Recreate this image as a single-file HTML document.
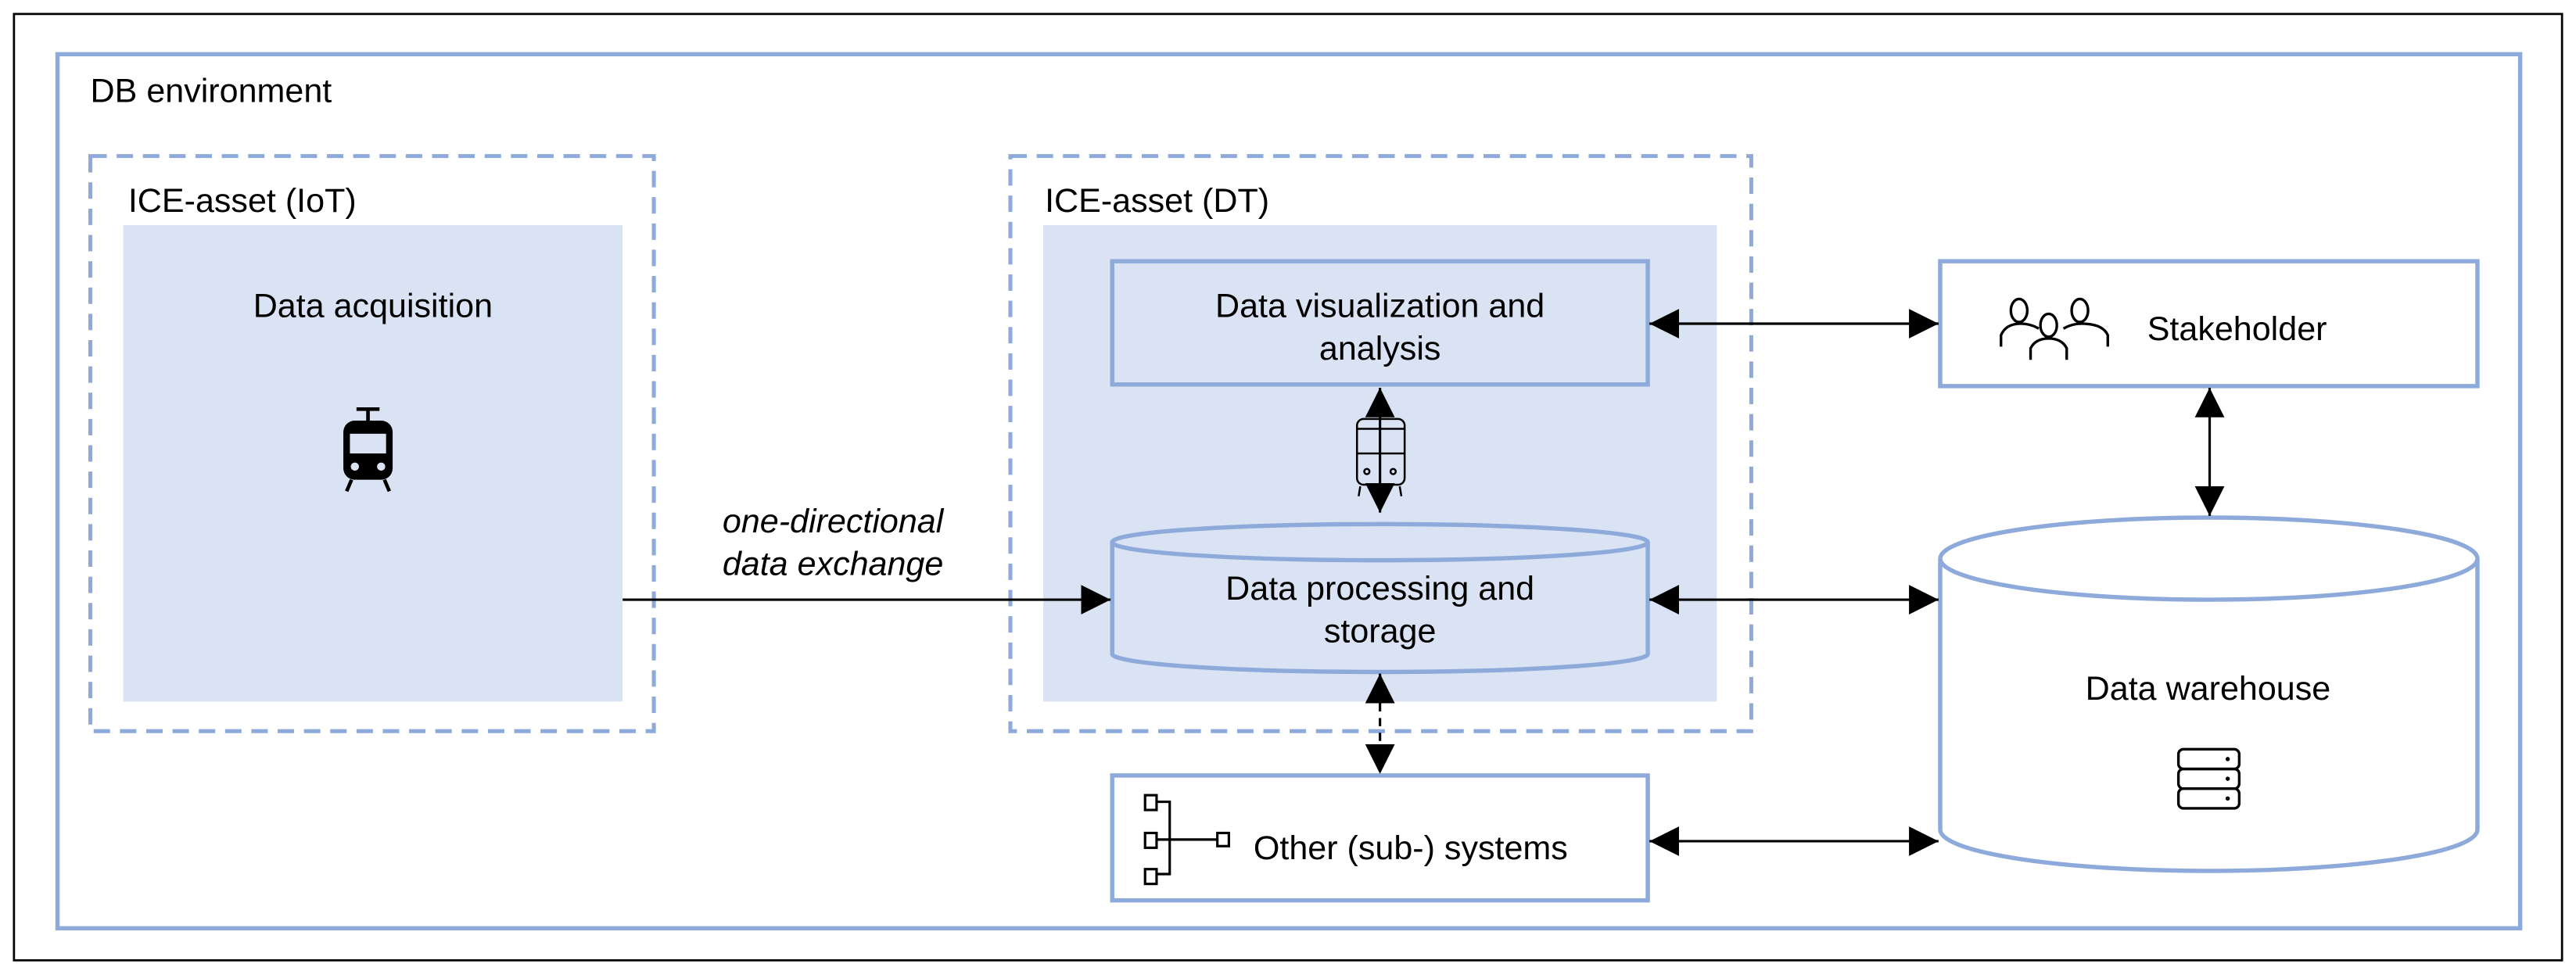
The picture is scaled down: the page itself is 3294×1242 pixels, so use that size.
<!DOCTYPE html>
<html><head><meta charset="utf-8"><style>html,body{margin:0;padding:0;background:#fff}svg{display:block}</style></head>
<body>
<svg width="3294" height="1242" viewBox="0 0 1568 591" preserveAspectRatio="none" xmlns="http://www.w3.org/2000/svg" font-family="Liberation Sans, Arial, sans-serif">
<defs>
<marker id="b" viewBox="0 0 10 10" refX="10" refY="5" markerWidth="18" markerHeight="18" markerUnits="userSpaceOnUse" orient="auto-start-reverse"><path d="M0,0L10,5L0,10z" fill="#000"/></marker>
</defs>
<rect x="0" y="0" width="1568" height="591" fill="#fff"/>
<rect x="8.5" y="8.5" width="1551" height="576" fill="none" stroke="#000" stroke-width="1.3"/>
<rect x="35" y="33" width="1499" height="532" fill="none" stroke="#8eaadb" stroke-width="2.6"/>
<text x="55" y="62" font-size="20.5">DB environment</text>

<rect x="55" y="95" width="343" height="350" fill="none" stroke="#8eaadb" stroke-width="2.4" stroke-dasharray="10,6"/>
<text x="78" y="129" font-size="20.5">ICE-asset (IoT)</text>
<rect x="75" y="137" width="304" height="290" fill="#dae3f3"/>
<text x="227" y="193" font-size="20.5" text-anchor="middle">Data acquisition</text>
<g transform="translate(224,272)">
<rect x="-15" y="-16" width="30" height="36" rx="7" fill="#000"/>
<rect x="-11" y="-8" width="22" height="12" fill="#dae3f3"/>
<circle cx="-8" cy="12" r="2.5" fill="#dae3f3"/><circle cx="8" cy="12" r="2.5" fill="#dae3f3"/>
<path d="M-7,-23H7M0,-23V-16M-10,20L-13,27M10,20L13,27" stroke="#000" stroke-width="2.2" fill="none"/>
</g>

<rect x="615" y="95" width="451" height="350" fill="none" stroke="#8eaadb" stroke-width="2.4" stroke-dasharray="10,6"/>
<text x="636" y="129" font-size="20.5">ICE-asset (DT)</text>
<rect x="635" y="137" width="410" height="290" fill="#dae3f3"/>
<rect x="677" y="159" width="326" height="75" fill="#dae3f3" stroke="#8eaadb" stroke-width="2.6"/>
<text x="840" y="193" font-size="20.5" text-anchor="middle">Data visualization and</text>
<text x="840" y="219" font-size="20.5" text-anchor="middle">analysis</text>

<path d="M677,330V398A163,11 0 0 0 1003,398V330" fill="#dae3f3" stroke="#8eaadb" stroke-width="2.6"/>
<ellipse cx="840" cy="330" rx="163" ry="11" fill="#dae3f3" stroke="#8eaadb" stroke-width="2.6"/>
<text x="840" y="365" font-size="20.5" text-anchor="middle">Data processing and</text>
<text x="840" y="391" font-size="20.5" text-anchor="middle">storage</text>

<g transform="translate(840,276)" fill="none" stroke="#000" stroke-width="1.2">
<rect x="-14" y="-21" width="29" height="40" rx="4"/>
<path d="M-14,-15H15M-14,0H15M-12,20L-13,26M12,20L13,26"/>
<circle cx="-8" cy="11" r="1.6"/><circle cx="8" cy="11" r="1.6"/>
</g>
<line x1="840" y1="236" x2="840" y2="312" stroke="#000" stroke-width="1.5" marker-start="url(#b)" marker-end="url(#b)"/>

<rect x="677" y="472" width="326" height="76" fill="#fff" stroke="#8eaadb" stroke-width="2.6"/>
<g fill="none" stroke="#000" stroke-width="1.5">
<rect x="697" y="484" width="7" height="9"/><rect x="697" y="507" width="7" height="9"/><rect x="697" y="529" width="7" height="9"/><rect x="741" y="507" width="7" height="8"/>
<path d="M704,488H712V532H704M704,511H741"/>
</g>
<text x="763" y="523" font-size="20.5">Other (sub-) systems</text>
<line x1="840" y1="410" x2="840" y2="471" stroke="#000" stroke-width="1.5" stroke-dasharray="5,4" marker-start="url(#b)" marker-end="url(#b)"/>

<rect x="1181" y="159" width="327" height="76" fill="#fff" stroke="#8eaadb" stroke-width="2.6"/>
<g fill="none" stroke="#000" stroke-width="1.6">
<ellipse cx="1229" cy="189" rx="5" ry="7"/><ellipse cx="1266" cy="189" rx="5" ry="7"/><ellipse cx="1247" cy="198" rx="5" ry="7"/>
<path d="M1218,211V204Q1221,197 1230,197Q1236,197 1241,200M1283,211V204Q1280,197 1267,197Q1261,197 1256,200M1236,219V212Q1239,206 1247,206Q1255,206 1258,212V219"/>
</g>
<text x="1307" y="207" font-size="20.5">Stakeholder</text>

<path d="M1181,340V505A163,25 0 0 0 1508,505V340" fill="#fff" stroke="#8eaadb" stroke-width="2.6"/>
<ellipse cx="1344.5" cy="340" rx="163.5" ry="25" fill="#fff" stroke="#8eaadb" stroke-width="2.6"/>
<text x="1344" y="426" font-size="20.5" text-anchor="middle">Data warehouse</text>
<g fill="none" stroke="#000" stroke-width="1.6">
<rect x="1326" y="456" width="37" height="12" rx="3"/><rect x="1326" y="468" width="37" height="12" rx="3"/><rect x="1326" y="480" width="37" height="12" rx="3"/>
</g>
<g fill="#000"><circle cx="1356" cy="462" r="1.3"/><circle cx="1356" cy="474" r="1.3"/><circle cx="1356" cy="486" r="1.3"/></g>

<g stroke="#000" stroke-width="1.5">
<line x1="1004" y1="197" x2="1180" y2="197" marker-start="url(#b)" marker-end="url(#b)"/>
<line x1="1004" y1="365" x2="1180" y2="365" marker-start="url(#b)" marker-end="url(#b)"/>
<line x1="1004" y1="512" x2="1180" y2="512" marker-start="url(#b)" marker-end="url(#b)"/>
<line x1="1345" y1="236" x2="1345" y2="314" marker-start="url(#b)" marker-end="url(#b)"/>
<line x1="379" y1="365" x2="676" y2="365" marker-end="url(#b)"/>
</g>
<text x="507" y="324" font-size="20.5" font-style="italic" text-anchor="middle">one-directional</text>
<text x="507" y="350" font-size="20.5" font-style="italic" text-anchor="middle">data exchange</text>
</svg>
</body></html>
